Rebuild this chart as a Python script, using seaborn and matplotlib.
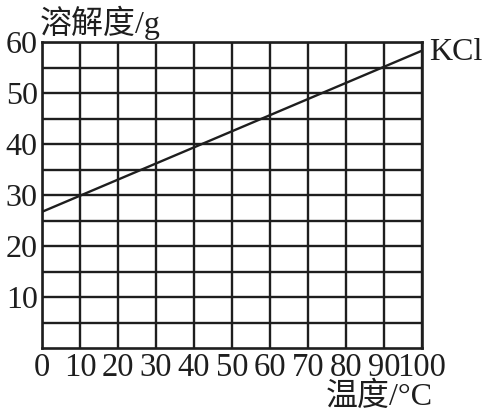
import matplotlib
matplotlib.use("Agg")
import matplotlib.pyplot as plt
import seaborn as sns
import pandas as pd

temperature = [0, 100]
solubility_kcl = [26.7, 58.3]
x_ticks = [0, 10, 20, 30, 40, 50, 60, 70, 80, 90, 100]
y_ticks = [10, 20, 30, 40, 50, 60]
y_grid = [5, 10, 15, 20, 25, 30, 35, 40, 45, 50, 55, 60]
series_name = "KCl"
x_label = "温度/°C"
y_label = "溶解度/g"

sns.set_theme(style="white")
plt.rcParams['font.family'] = ['Liberation Serif', 'Noto Sans CJK SC']

df = pd.DataFrame({"t": temperature, "s": solubility_kcl})

fig = plt.figure(figsize=(4.85, 4.12), dpi=100)
ax = fig.add_axes([42/485, 1-348/412, (422-42)/485, (348-42)/412])

for xv in x_ticks:
    ax.axvline(xv, color="#1e1e1e", lw=1.7, zorder=1)
for yv in y_grid:
    ax.axhline(yv, color="#1e1e1e", lw=1.7, zorder=1)

sns.lineplot(data=df, x="t", y="s", ax=ax, color="#1e1e1e", lw=1.7, zorder=3)

ax.set_xlim(0, 100)
ax.set_ylim(0, 60)
ax.set_xticks(x_ticks)
ax.set_xticklabels([str(v) for v in x_ticks])
ax.set_yticks(y_ticks)
ax.set_yticklabels([str(v) for v in y_ticks])
ax.tick_params(axis="both", length=0, labelsize=23, colors="#1e1e1e", pad=3)
ax.tick_params(axis="x", pad=3, labelsize=23.5)
ax.set_xlabel("")
ax.set_ylabel("")
for sp in ax.spines.values():
    sp.set_color("#1e1e1e")
    sp.set_linewidth(1.9)
    sp.set_visible(True)

ax.text(1.02, 1 - (53 - 42) / 306, series_name, transform=ax.transAxes,
        fontsize=23, color="#1e1e1e", va="center", ha="left")
fig.text(40/485, 1-33/412, y_label, fontsize=23, color="#1e1e1e", ha="left", va="baseline")
fig.text(326/485, 1-405/412, x_label, fontsize=23, color="#1e1e1e", ha="left", va="baseline")

fig.savefig("out.png", dpi=100)
